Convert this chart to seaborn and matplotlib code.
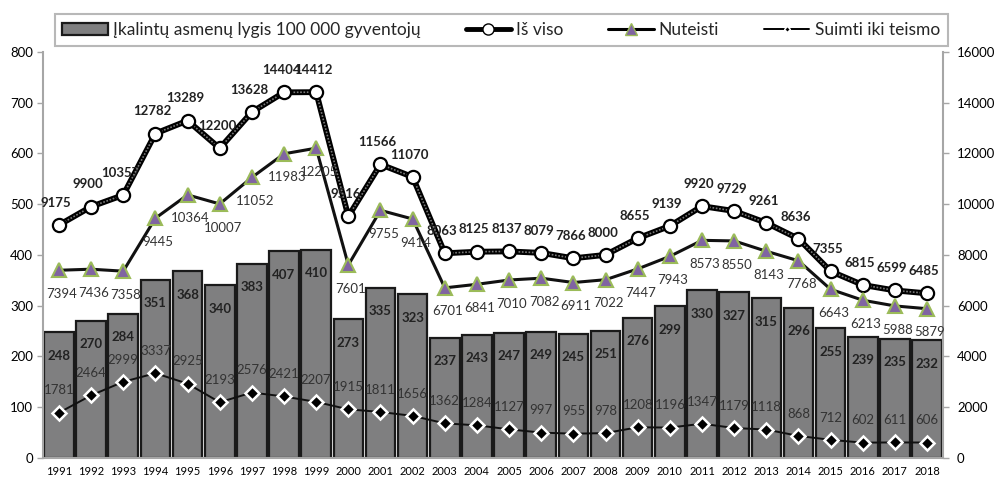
import numpy as np
import pandas as pd
import matplotlib
matplotlib.use("Agg")
import matplotlib.pyplot as plt
import seaborn as sns
from matplotlib.lines import Line2D
from matplotlib.patches import Patch

years = list(range(1991, 2019))
rate = [248, 270, 284, 351, 368, 340, 383, 407, 410, 273, 335, 323, 237, 243,
        247, 249, 245, 251, 276, 299, 330, 327, 315, 296, 255, 239, 235, 232]
total = [9175, 9900, 10357, 12782, 13289, 12200, 13628, 14404, 14412, 9516,
         11566, 11070, 8063, 8125, 8137, 8079, 7866, 8000, 8655, 9139, 9920,
         9729, 9261, 8636, 7355, 6815, 6599, 6485]
convicted = [7394, 7436, 7358, 9445, 10364, 10007, 11052, 11983, 12205, 7601,
             9755, 9414, 6701, 6841, 7010, 7082, 6911, 7022, 7447, 7943, 8573,
             8550, 8143, 7768, 6643, 6213, 5988, 5879]
pretrial = [1781, 2464, 2999, 3337, 2925, 2193, 2576, 2421, 2207, 1915, 1811,
            1656, 1362, 1284, 1127, 997, 955, 978, 1208, 1196, 1347, 1179, 1118,
            868, 712, 602, 611, 606]

labels = {
    "bar": "Įkalintų asmenų lygis 100 000 gyventojų",
    "total": "Iš viso",
    "conv": "Nuteisti",
    "pre": "Suimti iki teismo",
}

sns.set_theme(style="white")
plt.rcParams['font.family'] = ['Lato', 'DejaVu Sans']

df = pd.DataFrame({"year": [str(y) for y in years], "rate": rate,
                   "total": total, "conv": convicted, "pre": pretrial})
df["pos"] = np.arange(len(df))

fig = plt.figure(figsize=(9.97, 4.8), dpi=100)
ax = fig.add_axes([0.043, 0.046, 0.903, 0.846])

sns.barplot(data=df, x="year", y="rate", ax=ax, color="#7f7f80",
            edgecolor="#1a1a1a", linewidth=1.6, width=0.92, saturation=1)
ax.set_ylim(0, 800)
ax.set_xlim(-0.5, len(df) - 0.5)
ax.set_yticks(range(0, 801, 100))
ax.set_xlabel("")
ax.set_ylabel("")

for i, v in enumerate(rate):
    ax.annotate(str(v), (i, v), xytext=(0, -17), textcoords="offset points",
                ha="center", va="center", fontsize=9.5, fontweight="bold",
                color="#222222")

ax2 = ax.twinx()
ax2.set_ylim(0, 16000)
ax2.set_yticks(range(0, 16001, 2000))

# total line: thick black with grey dotted core
sns.lineplot(data=df, x="pos", y="total", ax=ax2, color="black", lw=4.2,
             zorder=3)
ax2.plot(df["pos"], df["total"], color="#7a7a7a", lw=1.2, ls=(0, (1, 1)),
         zorder=4)
ax2.plot(df["pos"], df["total"], ls="none", marker="o", ms=9.5,
         mfc="white", mec="black", mew=1.6, zorder=5)

sns.lineplot(data=df, x="pos", y="conv", ax=ax2, color="#111111", lw=2.2,
             zorder=3)
ax2.plot(df["pos"], df["conv"], ls="none", marker="^", ms=10,
         mfc="#8064a2", mec="#9bbb59", mew=1.5, zorder=5)

sns.lineplot(data=df, x="pos", y="pre", ax=ax2, color="#111111", lw=1.4,
             zorder=3)
ax2.plot(df["pos"], df["pre"], ls="none", marker="D", ms=7,
         mfc="black", mec="white", mew=1.8, zorder=5)

for i in range(len(df)):
    ax2.annotate(str(total[i]), (i, total[i]), xytext=(-2, 16),
                 textcoords="offset points", ha="center", va="center",
                 fontsize=9.5, fontweight="bold", color="#222222")
    ax2.annotate(str(convicted[i]), (i, convicted[i]), xytext=(2, -17),
                 textcoords="offset points", ha="center", va="center",
                 fontsize=9.5, color="#333333")
    ax2.annotate(str(pretrial[i]), (i, pretrial[i]), xytext=(0, 16),
                 textcoords="offset points", ha="center", va="center",
                 fontsize=9.5, color="#333333")

ax2.set_xlabel("")
ax2.set_ylabel("")
ax2.set_xlim(-0.5, len(df) - 0.5)

spine_c = "#a6a6a6"
for a in (ax, ax2):
    a.spines["top"].set_visible(False)
    for s in ("left", "right", "bottom"):
        a.spines[s].set_color(spine_c)
        a.spines[s].set_linewidth(1.5)
    a.tick_params(axis="y", colors=spine_c, labelcolor="black", length=4,
                  width=1, labelsize=9.5, direction="out")
    a.grid(False)
ax.spines["right"].set_visible(False)
ax2.spines["left"].set_visible(False)
ax2.spines["bottom"].set_visible(False)
ax.tick_params(axis="y", left=True, pad=3)
ax2.tick_params(axis="y", right=True, pad=6)

ax.set_xticks(np.arange(len(df)))
ax.set_xticklabels([str(y) for y in years], fontsize=8)
ax.tick_params(axis="x", length=0, pad=6, labelcolor="black")
ax.set_xticks(np.arange(len(df) + 1) - 0.5, minor=True)
ax.tick_params(axis="x", which="minor", length=4, width=1, colors=spine_c,
               direction="out")
ax2.set_zorder(ax.get_zorder() + 1)
ax.patch.set_visible(True)
ax2.patch.set_visible(False)

handles = [
    Patch(facecolor="#7f7f80", edgecolor="#1a1a1a", linewidth=1.6),
    Line2D([], [], color="black", lw=3.5, marker="o", ms=8, mfc="white",
           mec="black"),
    Line2D([], [], color="black", lw=2.2, marker="^", ms=9, mfc="#8064a2",
           mec="#9bbb59"),
    Line2D([], [], color="black", lw=1.4, marker="D", ms=3, mfc="black",
           mec="white"),
]
leg = fig.legend(handles, [labels["bar"], labels["total"], labels["conv"],
                           labels["pre"]],
                 loc="center", bbox_to_anchor=(0.0552, 0.9, 0.895, 0.075),
                 ncol=4, fontsize=12.5, frameon=True,
                 fancybox=False, handlelength=2.6, handletextpad=0.3,
                 borderaxespad=0, columnspacing=2.6, borderpad=0.45)
leg.get_frame().set_edgecolor("#a6a6a6")
leg.get_frame().set_linewidth(1.5)

fig.savefig("out.png", dpi=100)
